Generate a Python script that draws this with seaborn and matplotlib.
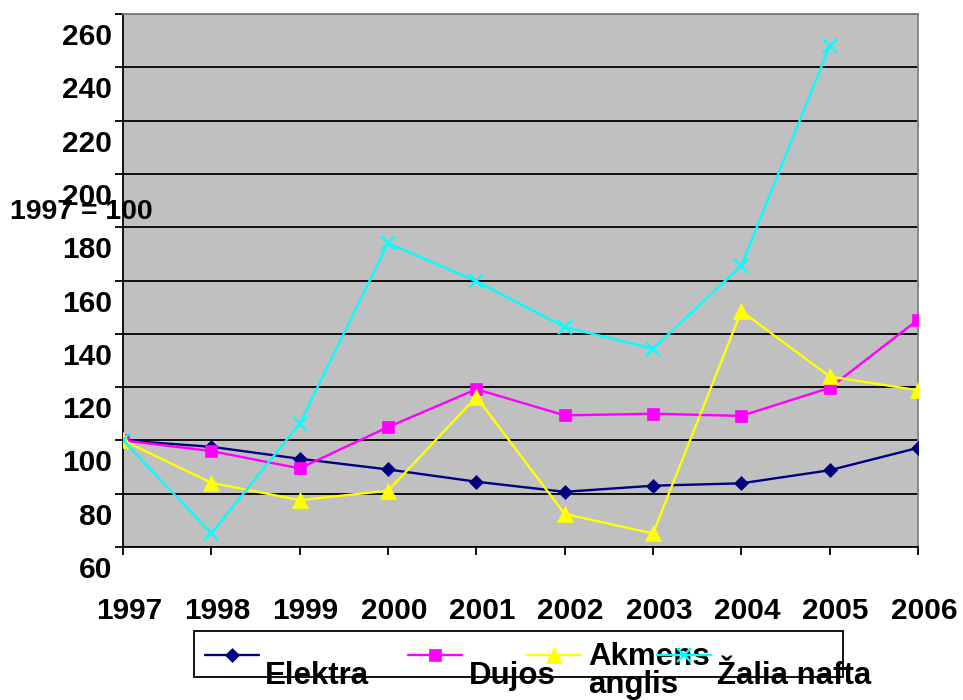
import numpy as np
import pandas as pd
import seaborn as sns
import matplotlib.pyplot as plt
from matplotlib.lines import Line2D
from matplotlib.patches import Rectangle
from matplotlib.transforms import ScaledTranslation

years = [1997, 1998, 1999, 2000, 2001, 2002, 2003, 2004, 2005, 2006]
elektra = [100, 97.6, 93.1, 89.1, 84.5, 80.7, 83.0, 83.9, 88.8, 97.2]
dujos = [100, 96.0, 89.5, 105.0, 119.2, 109.4, 110.0, 109.2, 119.7, 145.3]
akmens_anglis = [100, 84.1, 77.6, 81.1, 116.3, 72.4, 65.1, 148.5, 124.0, 118.8]
zalia_nafta = [100, 65.1, 106.3, 174.0, 159.7, 142.5, 134.4, 165.6, 248.0, np.nan]
y_ticks = [60, 80, 100, 120, 140, 160, 180, 200, 220, 240, 260]

series = [
    ("Elektra", elektra, "#000080", "D", 7.5),
    ("Dujos", dujos, "#FF00FF", "s", 9),
    ("Akmens\nanglis", akmens_anglis, "#FFFF00", "^", 11),
    ("Žalia nafta", zalia_nafta, "#00FFFF", "x", 9.5),
]


def px(x, y):
    return x / 963, 1 - y / 700


def main():
    sns.set_theme(style="white")
    plt.rcParams["font.family"] = ["Liberation Sans", "DejaVu Sans"]
    plt.rcParams["font.weight"] = "bold"

    fig = plt.figure(figsize=(9.63, 7), dpi=100)
    ax = fig.add_axes([123 / 963, 153 / 700, 795 / 963, 533 / 700])
    ax.set_facecolor("#C0C0C0")

    for name, vals, color, marker, ms in series:
        df = pd.DataFrame({"year": years, "value": vals})
        sns.lineplot(data=df, x="year", y="value", ax=ax, color=color, lw=1.7,
                     marker=marker, markersize=ms, markeredgecolor=color,
                     markeredgewidth=1.7 if marker == "x" else 0.5, zorder=3)

    ax.set_xlim(1997, 2006)
    ax.set_ylim(60, 260)
    ax.set_yticks(y_ticks)
    ax.set_xticks(years)
    ax.set_xticklabels([str(y) for y in years])
    ax.set_xlabel("")
    ax.set_ylabel("")
    ax.grid(axis="y", color="black", lw=1.3)
    ax.grid(axis="x", visible=False)
    ax.set_axisbelow(True)

    for side in ["left", "bottom"]:
        ax.spines[side].set_color("black")
        ax.spines[side].set_linewidth(1.3)
    for side in ["top", "right"]:
        ax.spines[side].set_color("#808080")
        ax.spines[side].set_linewidth(1.3)

    ax.tick_params(axis="both", direction="out", length=6, width=1.3, color="black",
                   labelsize=21.5, labelcolor="black")
    ax.tick_params(axis="y", pad=2, left=True)
    ax.tick_params(axis="x", pad=30, bottom=True)
    for lab in ax.get_yticklabels():
        lab.set_fontweight("bold")
        lab.set_transform(lab.get_transform() + ScaledTranslation(0, -0.2, fig.dpi_scale_trans))
    for lab in ax.get_xticklabels():
        lab.set_fontweight("bold")
        lab.set_transform(lab.get_transform() + ScaledTranslation(0.06, 0, fig.dpi_scale_trans))

    fig.text(*px(10, 212), "1997 = 100", fontsize=20.5, fontweight="bold",
             ha="left", va="center", color="black")

    # legend drawn by hand to mimic the shifted Excel layout
    box_x0, box_y0 = px(194, 677)
    box_x1, box_y1 = px(843, 631)
    fig.add_artist(Rectangle((box_x0, box_y0), box_x1 - box_x0, box_y1 - box_y0,
                             transform=fig.transFigure, fill=False, ec="black",
                             lw=1.3, zorder=5))
    entries = [(205, 265, 676), (408, 469, 676), (527, 588, 671), (657, 717, 676)]
    for (name, vals, color, marker, ms), (lx, tx, ty) in zip(series, entries):
        x0, y0 = px(lx, 655)
        x1, _ = px(lx + 54, 655)
        fig.add_artist(Line2D([x0, x1], [y0, y0], color=color, lw=1.7,
                              transform=fig.transFigure, zorder=4))
        fig.add_artist(Line2D([(x0 + x1) / 2], [y0], color=color, marker=marker,
                              markersize=ms, markeredgecolor=color,
                              markeredgewidth=1.7 if marker == "x" else 0.5,
                              transform=fig.transFigure, zorder=4))
        fig.text(*px(tx, ty), name, fontsize=22.5, fontweight="bold", ha="left",
                 va="center", color="black", linespacing=0.95, zorder=3)

    fig.savefig("out.png", dpi=100)


if __name__ == "__main__":
    main()
